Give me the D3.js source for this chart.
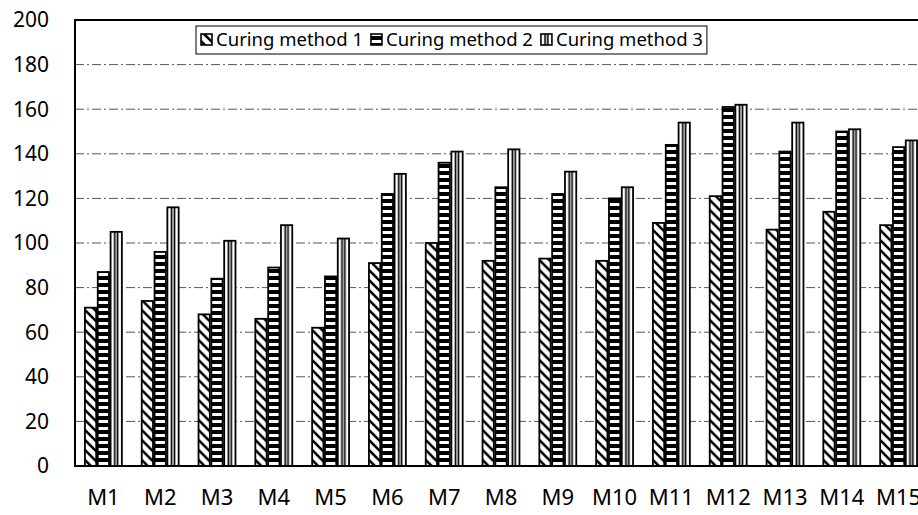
<!DOCTYPE html>
<html>
<head>
<meta charset="utf-8">
<script src="https://cdn.jsdelivr.net/npm/d3@7"></script>
<style>
  body { margin: 0; background: #fff; }
  svg { display: block; font-family: "Noto Sans", sans-serif; }
  .tick-label { font-size: 21px; fill: #000; }
  .x-label { font-size: 22px; fill: #000; }
  .legend-text { font-size: 18.5px; fill: #000; }
</style>
</head>
<body>
<svg id="chart" width="918" height="515"></svg>
<script>
// ========= data =========
const categories = ["M1", "M2", "M3", "M4", "M5", "M6", "M7", "M8", "M9", "M10", "M11", "M12", "M13", "M14", "M15"];
const seriesNames = ["Curing method 1", "Curing method 2", "Curing method 3"];
const method1 = [71, 74, 68, 66, 62, 91, 100, 92, 93, 92, 109, 121, 106, 114, 108];
const method2 = [87, 96, 84, 89, 85, 122, 136, 125, 122, 120, 144, 161, 141, 150, 143];
const method3 = [105, 116, 101, 108, 102, 131, 141, 142, 132, 125, 154, 162, 154, 151, 146];
const yTicks = [0, 20, 40, 60, 80, 100, 120, 140, 160, 180, 200];

const seriesValues = [method1, method2, method3];

// ========= svg =========
const svg = d3.select("#chart");

// plot area runs past the right edge of the picture (clipped like the original)
const plotLeft = 75, plotTop = 20, plotBottom = 466;
const step = 56.8;
const plotRight = plotLeft + step * categories.length;

const x = d3.scaleBand()
    .domain(categories)
    .range([plotLeft, plotRight])
    .paddingInner(0.35)
    .paddingOuter(0.175);

const xSub = d3.scaleBand()
    .domain(d3.range(seriesNames.length))
    .range([0, x.bandwidth()])
    .paddingInner(0.12);

const y = d3.scaleLinear()
    .domain([0, 200])
    .range([plotBottom, plotTop]);

// ========= patterns =========
const defs = svg.append("defs");

// method 1: diagonal "\" hatch
const pDiag = defs.append("pattern")
    .attr("id", "p-diag")
    .attr("patternUnits", "userSpaceOnUse")
    .attr("width", 10)
    .attr("height", 10);
pDiag.append("rect").attr("width", 10).attr("height", 10).attr("fill", "#fff");
pDiag.append("path")
    .attr("d", "M-5,-5 L15,15 M-5,5 L5,15 M5,-5 L15,5")
    .attr("stroke", "#000")
    .attr("stroke-width", 2.6);

// method 2: horizontal stripes
const pHor = defs.append("pattern")
    .attr("id", "p-hor")
    .attr("patternUnits", "userSpaceOnUse")
    .attr("width", 8)
    .attr("height", 7);
pHor.append("rect").attr("width", 8).attr("height", 7).attr("fill", "#fff");
pHor.append("rect").attr("y", 3).attr("width", 8).attr("height", 4).attr("fill", "#000");

// method 3: vertical lines, scaled to each bar
const pVer = defs.append("pattern")
    .attr("id", "p-ver")
    .attr("patternUnits", "objectBoundingBox")
    .attr("patternContentUnits", "objectBoundingBox")
    .attr("width", 1)
    .attr("height", 1);
pVer.append("rect").attr("width", 1).attr("height", 1).attr("fill", "#fff");
pVer.append("rect").attr("x", 0.3).attr("width", 0.4).attr("height", 1).attr("fill", "#000");
pVer.append("rect").attr("x", 0.43).attr("width", 0.14).attr("height", 1).attr("fill", "#bbb");

const fills = ["url(#p-diag)", "url(#p-hor)", "url(#p-ver)"];

// ========= grid =========
svg.append("g")
    .selectAll("line")
    .data(yTicks.filter(d => d > 0 && d < 200))
    .join("line")
    .attr("x1", plotLeft)
    .attr("x2", plotRight)
    .attr("y1", d => y(d))
    .attr("y2", d => y(d))
    .attr("stroke", "#555")
    .attr("stroke-width", 1)
    .attr("stroke-dasharray", "9,3,2,3");

// ========= bars =========
const groups = svg.append("g")
    .selectAll("g")
    .data(categories)
    .join("g")
    .attr("transform", d => `translate(${x(d)},0)`);

groups.selectAll("rect")
    .data((c, i) => seriesValues.map((vals, s) => ({ s, v: vals[i] })))
    .join("rect")
    .attr("x", d => xSub(d.s))
    .attr("y", d => y(d.v))
    .attr("width", xSub.bandwidth())
    .attr("height", d => plotBottom - y(d.v))
    .attr("fill", d => fills[d.s])
    .attr("stroke", "#000")
    .attr("stroke-width", 1.8);

// ========= frame =========
svg.append("line")
    .attr("x1", plotLeft).attr("x2", plotRight)
    .attr("y1", plotTop).attr("y2", plotTop)
    .attr("stroke", "#000").attr("stroke-width", 2);

svg.append("line")
    .attr("x1", plotLeft).attr("x2", plotRight)
    .attr("y1", plotBottom).attr("y2", plotBottom)
    .attr("stroke", "#000").attr("stroke-width", 2);

svg.append("line")
    .attr("x1", plotLeft).attr("x2", plotLeft)
    .attr("y1", plotTop - 1).attr("y2", plotBottom + 1)
    .attr("stroke", "#000").attr("stroke-width", 2);

// ========= axes labels =========
svg.append("g")
    .selectAll("text")
    .data(yTicks)
    .join("text")
    .attr("class", "tick-label")
    .attr("x", 49)
    .attr("y", d => y(d))
    .attr("dy", "0.35em")
    .attr("text-anchor", "end")
    .text(d => d);

svg.append("g")
    .selectAll("text")
    .data(categories)
    .join("text")
    .attr("class", "x-label")
    .attr("x", d => x(d) + x.bandwidth() / 2)
    .attr("y", 497)
    .attr("dy", "0.35em")
    .attr("text-anchor", "middle")
    .text(d => d);

// ========= legend =========
const legend = svg.append("g")
    .attr("transform", "translate(196,26)");

const legendBox = legend.append("rect")
    .attr("fill", "#fff")
    .attr("stroke", "#000")
    .attr("stroke-width", 1);

let lx = 5;
seriesNames.forEach((name, s) => {
    legend.append("rect")
        .attr("x", lx)
        .attr("y", 8)
        .attr("width", 11)
        .attr("height", 11)
        .attr("fill", fills[s])
        .attr("stroke", "#000")
        .attr("stroke-width", 1.6);
    const t = legend.append("text")
        .attr("class", "legend-text")
        .attr("x", lx + 15)
        .attr("y", 14)
        .attr("dy", "0.35em")
        .text(name);
    lx += 15 + t.node().getComputedTextLength() + 8;
});

legendBox
    .attr("x", 0)
    .attr("y", 0)
    .attr("width", lx - 4)
    .attr("height", 28);
</script>
</body>
</html>
